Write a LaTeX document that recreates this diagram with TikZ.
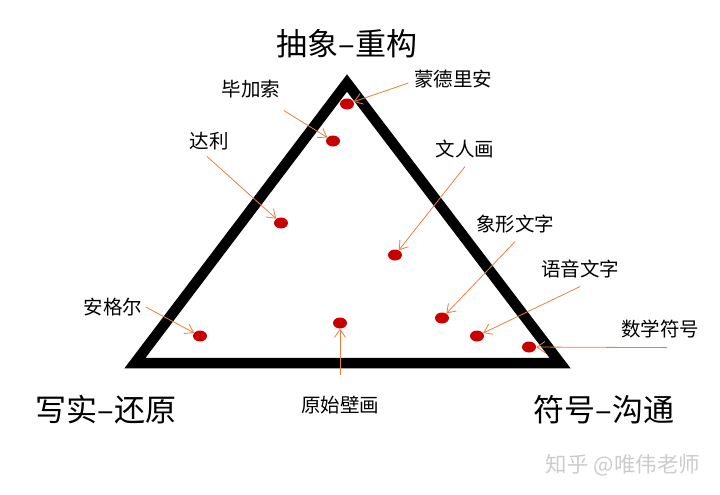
\documentclass[tikz,border=0pt]{standalone}
\usepackage{fontspec}
\setmainfont{Noto Sans CJK SC}
\usepackage{tikz}
\usetikzlibrary{arrows.meta,shapes.geometric}
\definecolor{dotred}{RGB}{200,0,0}
\definecolor{arrorange}{RGB}{232,128,64}
\tikzset{
  pole/.style={font=\fontsize{31}{31}\selectfont},
  artist/.style={font=\fontsize{19.5}{19.5}\selectfont},
  dot/.style={ellipse,fill=dotred,inner sep=0pt,minimum width=14pt,minimum height=11pt},
  pointer/.style={arrorange,line width=0.8pt,-{Straight Barb[length=8pt,width=11pt]}}
}

\begin{document}
\begin{tikzpicture}[x=1pt,y=-1pt]
  \useasboundingbox (0,0) rectangle (720,495);
  % triangle
  \draw[line width=10.5pt,miter limit=10] (135,363) -- (347,83) -- (560,363) -- cycle;
  \node[pole] (top)   at (347,44)  {抽象–重构};
  \node[pole] (left)  at (106,410) {写实–还原};
  \node[pole] (right) at (604,410) {符号–沟通};
  % painters and scripts
  \node[dot] (p-mond) at (347,104) {};
  \node[dot] (p-pica) at (333,141) {};
  \node[dot] (p-dali) at (281,223) {};
  \node[dot] (p-wrh)  at (395,255) {};
  \node[dot] (p-xxwz) at (442,318) {};
  \node[dot] (p-yywz) at (477,336) {};
  \node[dot] (p-sxfh) at (529,347) {};
  \node[dot] (p-ange) at (200,336) {};
  \node[dot] (p-ysbh) at (340,323) {};
  \node[artist] (mond) at (453,79)  {蒙德里安};
  \node[artist] (pica) at (251,89)  {毕加索};
  \node[artist] (dali) at (209,141) {达利};
  \node[artist] (wrh)  at (465,149) {文人画};
  \node[artist] (xxwz) at (515,224) {象形文字};
  \node[artist] (yywz) at (580,269) {语音文字};
  \node[artist] (sxfh) at (660,329) {数学符号};
  \node[artist] (ange) at (113,307) {安格尔};
  \node[artist] (ysbh) at (340,405) {原始壁画};
  \draw[pointer] (mond.west) ++(-2,4) -- (p-mond);
  \draw[pointer] (pica.south east) ++(0,9) -- (p-pica);
  \draw[pointer] (dali.south) ++(-2,3) -- (p-dali);
  \draw[pointer] (wrh.south) ++(0,5) -- (p-wrh);
  \draw[pointer] (xxwz.south) ++(0,5) -- (p-xxwz);
  \draw[pointer] (yywz.south) ++(0,5) -- (p-yywz);
  \draw[pointer] (sxfh.south) ++(7,6) -- (p-sxfh);
  \draw[pointer] (ange.east) ++(0,0) -- (p-ange);
  \draw[pointer] (ysbh.north) ++(0,-17) -- (p-ysbh);
  % watermark
  \node[font=\fontsize{21.5}{21.5}\selectfont,text=gray!40] (mark) at (623,465) {知乎 @唯伟老师};
\end{tikzpicture}
\end{document}
